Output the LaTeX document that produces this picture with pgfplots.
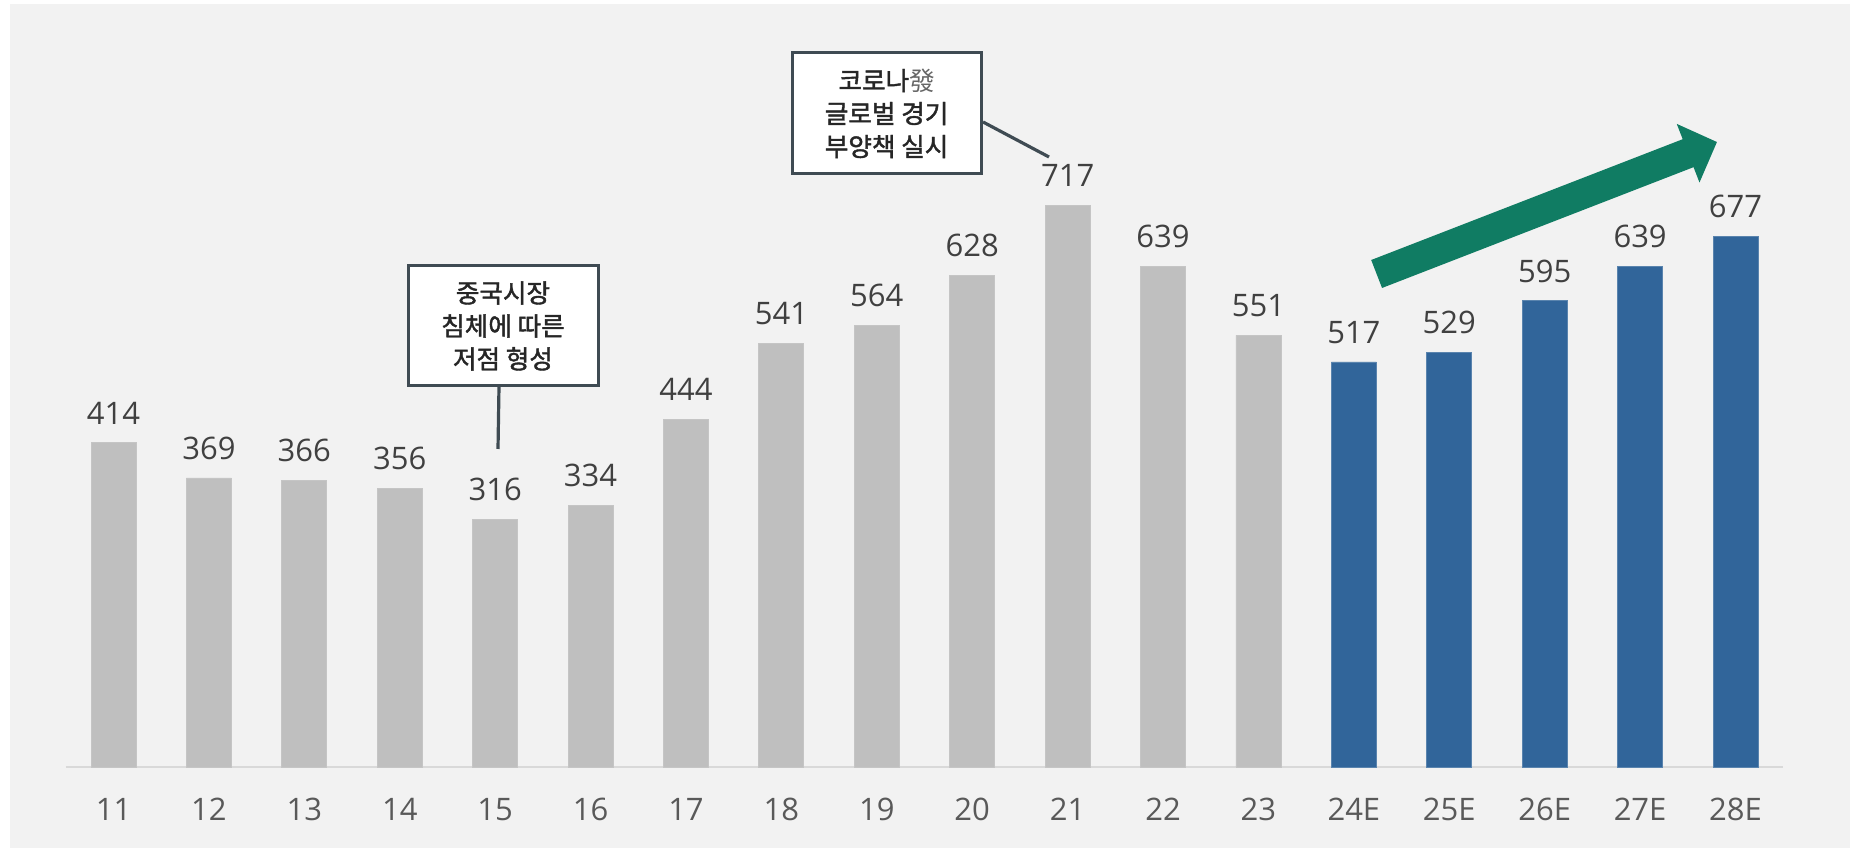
\documentclass[border=0pt]{standalone}
\usepackage{fontspec}
\setmainfont{Open Sans}
\newfontfamily\kr{Noto Sans CJK KR}
\newfontfamily\krb{Noto Sans CJK KR}[FakeBold=1.6]
\usepackage{pgfplots}
\pgfplotsset{compat=1.18}
\usetikzlibrary{arrows.meta}
\definecolor{panel}{HTML}{F2F2F2}
\definecolor{barg}{HTML}{BFBFBF}
\definecolor{barb}{HTML}{31659A}
\definecolor{txt}{HTML}{404040}
\definecolor{tick}{HTML}{595959}
\definecolor{axln}{HTML}{D9D9D9}
\definecolor{callout}{HTML}{3F4B53}
\definecolor{arrowg}{HTML}{107C63}
\begin{document}
\begin{tikzpicture}
% page and grey panel (1px = 0.5pt, origin at axis lower left)
\fill[white] (-32.9pt,-41pt) rectangle (894.6pt,383.5pt);
\useasboundingbox (-32.9pt,-41pt) rectangle (894.6pt,383.5pt);
\fill[panel] (-27.9pt,-40.5pt) rectangle (892.1pt,381.5pt);
\begin{axis}[
  at={(0pt,0pt)}, anchor=south west,
  scale only axis, width=858.7pt, height=381.5pt,
  xmin=-0.5, xmax=17.5, ymin=0, ymax=974,
  axis x line*=bottom, axis y line=none,
  axis line style={draw=axln, line width=1pt},
  xtick={0,...,17}, major tick length=0pt,
  xticklabels={11,12,13,14,15,16,17,18,19,20,21,22,23,24E,25E,26E,27E,28E},
  xticklabel style={font=\fontsize{15.5}{18}\selectfont, text=tick, inner sep=0pt, anchor=north, yshift=-15.5pt},
  ytick=\empty,
  /pgf/number format/assume math mode=true,
  ybar, bar width=22.5pt, bar shift=0pt,
  nodes near coords,
  every node near coord/.append style={font=\fontsize{15.5}{18}\selectfont, text=txt, anchor=south, inner sep=0pt, yshift=9pt},
  clip=false,
]
\addplot[fill=barg, draw=barg!90!white] coordinates {
  (0,414) (1,369) (2,366) (3,356) (4,316) (5,334) (6,444)
  (7,541) (8,564) (9,628) (10,717) (11,639) (12,551)};
\addplot[fill=barb, draw=barb!80!white] coordinates {
  (13,517) (14,529) (15,595) (16,639) (17,677)};
\end{axis}
% growth arrow
\draw[arrowg, line width=15pt, -{Triangle[length=15.5pt,width=30.5pt]}] (655.4pt,246.5pt) -- (825.6pt,312.5pt);
% callouts
\draw[callout, line width=1.6pt] (458.6pt,322.5pt) -- (491.6pt,305pt);
\node[draw=callout, line width=1.5pt, fill=white, minimum width=94.5pt, minimum height=60.5pt, align=center,
  font=\krb\fontsize{12.8}{16.5}\selectfont, text=black!85] at (410.4pt,326.8pt)
  {코로나{\kr\color{black!60}發}\\글로벌 경기\\부양책 실시};
\draw[callout, line width=1.6pt] (216.6pt,190.5pt) -- (216.1pt,159pt);
\node[draw=callout, line width=1.5pt, fill=white, minimum width=95pt, minimum height=60pt, align=center,
  font=\krb\fontsize{12.8}{16.5}\selectfont, text=black!85] at (218.6pt,220.5pt)
  {중국시장\\침체에 따른\\저점 형성};
\end{tikzpicture}
\end{document}
